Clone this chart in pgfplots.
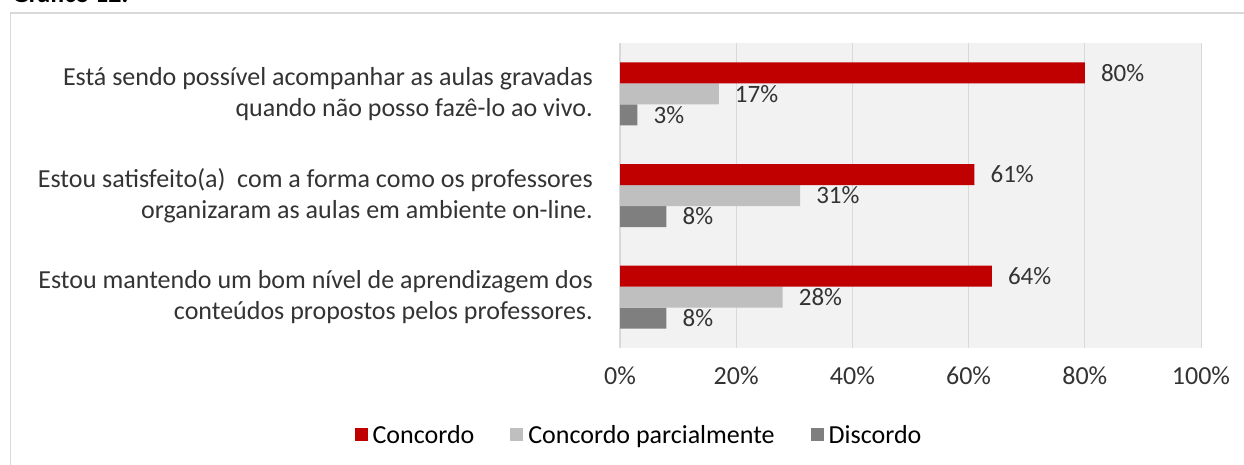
\documentclass[border=0pt]{standalone}
\usepackage{fontspec}
\setmainfont{Carlito}
\usepackage{pgfplots}
\pgfplotsset{compat=1.18}
\definecolor{cred}{HTML}{C00000}
\definecolor{clight}{HTML}{BFBFBF}
\definecolor{cdark}{HTML}{7F7F7F}
\definecolor{bgc}{HTML}{F2F2F2}
\definecolor{gridc}{HTML}{D9D9D9}
\definecolor{txt}{HTML}{333333}
\newcommand\cfont{\fontsize{26}{31}\selectfont}
\newcommand\vfont{\fontsize{25}{30}\selectfont}
\begin{document}
\begin{tikzpicture}[x=1pt,y=1pt]
\useasboundingbox (0,0) rectangle (1244,464);
\clip (0,0) rectangle (1244,464);
\draw[gridc, line width=1.2pt] (10.5,-5) -- (10.5,451) -- (1250,451);
\node[anchor=base west, inner sep=0pt, font=\cfont\bfseries] at (12,461) {Gráfico 12:};
\begin{axis}[
  at={(620pt,116pt)}, anchor=south west,
  scale only axis, width=581pt, height=305pt,
  xbar=0pt, bar width=21pt,
  xmin=0, xmax=100, ymin=-0.5, ymax=2.5,
  /pgf/number format/assume math mode=true,
  ytick={0,1,2},
  yticklabels={{Estou mantendo um bom nível de aprendizagem dos\\conteúdos propostos pelos professores.},
               {Estou satisfeito(a)\ \ com a forma como os professores\\organizaram as aulas em ambiente on-line.},
               {Está sendo possível acompanhar as aulas gravadas\\quando não posso fazê-lo ao vivo.}},
  yticklabel style={align=right, font=\cfont, text=txt, inner sep=0pt, xshift=-27pt},
  xtick={0,20,40,60,80,100},
  xticklabels={0\%,20\%,40\%,60\%,80\%,100\%},
  xticklabel style={font=\cfont, text=txt, inner sep=0pt, yshift=-19pt},
  major tick length=0pt,
  xmajorgrids, grid style={gridc, line width=1pt},
  axis background/.style={fill=bgc},
  axis x line*=bottom, axis y line*=left,
  x axis line style={draw=none},
  y axis line style={gridc, line width=1.5pt},
  nodes near coords={\pgfmathprintnumber{\pgfplotspointmeta}\%},
  point meta=explicit,
  nodes near coords style={anchor=west, font=\vfont, text=txt, inner sep=0pt, xshift=16pt},
  reverse legend,
  legend style={at={(0.0327,-0.285)}, anchor=center, draw=none, fill=none,
    legend columns=3, font=\cfont, text=black,
    nodes={inner sep=2pt},
    /tikz/every odd column/.append style={column sep=3pt},
    /tikz/every even column/.append style={column sep=34pt}},
  legend image code/.code={\fill[#1] (0pt,-6.5pt) rectangle (13pt,6.5pt);},
]
\addplot[fill=cdark, draw=none] coordinates {(3,2) [3] (8,1) [8] (8,0) [8]};
\addplot[fill=clight, draw=none] coordinates {(17,2) [17] (31,1) [31] (28,0) [28]};
\addplot[fill=cred, draw=none] coordinates {(80,2) [80] (61,1) [61] (64,0) [64]};
\legend{Discordo, Concordo parcialmente, Concordo}
\end{axis}
\end{tikzpicture}
\end{document}
